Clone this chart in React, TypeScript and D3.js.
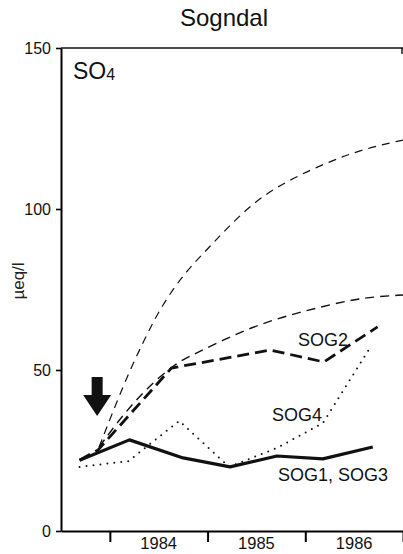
import React, { useEffect, useRef } from 'react';
import * as d3 from 'd3';

// sampling dates (decimal years) and SO4 values, µeq/l
const sog13Dates = [1983.69, 1984.2, 1984.75, 1985.23, 1985.71, 1986.18, 1986.69];
const sog13Values = [22.0, 28.3, 22.7, 19.9, 23.3, 22.4, 26.1];

const sog4Dates = [1983.69, 1984.19, 1984.71, 1985.22, 1985.71, 1986.18, 1986.66];
const sog4Values = [19.9, 21.7, 34.2, 19.9, 25.8, 33.5, 56.8];

const sog2Dates = [1983.69, 1983.88, 1984.63, 1985.64, 1986.19, 1986.74];
const sog2Values = [22.0, 25.2, 50.6, 56.2, 52.5, 63.4];

// thin dashed curves (model)
const upperDates = [1983.89, 1984.15, 1984.35, 1984.53, 1984.77, 1985.02, 1985.26, 1985.54, 1985.87, 1986.28, 1986.63, 1987.0];
const upperValues = [26.1, 46.3, 59.3, 70.0, 80.4, 88.2, 96.0, 103.7, 109.6, 115.2, 118.9, 121.4];

const lowerDates = [1983.89, 1984.24, 1984.65, 1984.89, 1985.16, 1985.43, 1985.77, 1986.12, 1986.46, 1986.69, 1987.0];
const lowerValues = [26.1, 40.4, 51.9, 55.3, 59.3, 63.0, 66.5, 69.3, 71.7, 72.7, 73.3];

const yearTicks = [1984, 1985, 1986, 1987];
const yearLabels = ['1984', '1985', '1986'];
const yTicks = [0, 50, 100, 150];

const limingDate = 1983.87;

const W = 403;
const H = 554;
const FONT = '"Liberation Sans", Arial, Helvetica, sans-serif';

const x = d3.scaleLinear().domain([1983.5, 1987]).range([61, 403]);
const y = d3.scaleLinear().domain([0, 150]).range([531, 48]);

const pts = (ds: number[], vs: number[]) => ds.map((d, i) => [d, vs[i]] as [number, number]);

const lineStraight = d3.line<[number, number]>().x(d => x(d[0])).y(d => y(d[1]));
const lineSmooth = d3.line<[number, number]>().x(d => x(d[0])).y(d => y(d[1])).curve(d3.curveBasis);

export default function App() {
  const yRef = useRef<SVGGElement>(null);
  const xRef = useRef<SVGGElement>(null);

  useEffect(() => {
    const ya = d3.select(yRef.current!);
    ya.call(d3.axisLeft(y).tickValues(yTicks).tickSize(5).tickPadding(5).tickSizeOuter(0).tickFormat(d3.format('d')));
    ya.select('.domain').attr('stroke-width', 2);
    ya.selectAll('.tick line').attr('stroke-width', 1.6);
    ya.selectAll('.tick text').attr('font-size', 16).attr('font-family', FONT).attr('fill', '#111');

    const xa = d3.select(xRef.current!);
    xa.call(d3.axisBottom(x).tickValues(yearTicks).tickSize(11).tickSizeOuter(0).tickFormat(() => ''));
    xa.select('.domain').attr('stroke-width', 2);
    xa.selectAll('.tick line').attr('stroke-width', 2);
  }, []);

  // arrow marking the liming
  const ax = x(limingDate);
  const aTop = y(47.8);
  const aTip = y(35.7);
  const aNeck = aTop + 18;
  const arrow = [
    [ax - 5.5, aTop], [ax + 5.5, aTop], [ax + 5.5, aNeck], [ax + 14, aNeck],
    [ax, aTip], [ax - 14, aNeck], [ax - 5.5, aNeck],
  ].map(p => p.join(',')).join(' ');

  return (
    <svg width={W} height={H} style={{ position: 'absolute', left: 0, top: 0, background: '#fff' }}>
      <text x={224} y={26} textAnchor="middle" fontSize={24} fontFamily={FONT} fill="#111">Sogndal</text>

      {/* frame */}
      <line x1={x(1983.5)} x2={W} y1={y(150)} y2={y(150)} stroke="#111" strokeWidth={1.6} />
      <line x1={x(1987) - 1} x2={x(1987) - 1} y1={y(150)} y2={y(150) + 6} stroke="#111" strokeWidth={1.4} />

      <g ref={yRef} transform={`translate(${x(1983.5)},0)`} />
      <g ref={xRef} transform={`translate(0,${y(0)})`} />

      {yearLabels.map((t, i) => (
        <text key={t} x={x(yearTicks[i] + 0.5)} y={549} textAnchor="middle" fontSize={16.5} fontFamily={FONT} fill="#111">{t}</text>
      ))}

      <text transform="translate(20,281) rotate(-90)" textAnchor="middle" dominantBaseline="middle" fontSize={17} fontFamily={FONT} fill="#222">µeq/l</text>

      <text x={73} y={79} fontSize={23} fontFamily={FONT} fill="#111">SO<tspan fontSize={16} dy={1}>4</tspan></text>

      {/* series */}
      <path d={lineSmooth(pts(upperDates, upperValues)) || ''} fill="none" stroke="#111" strokeWidth={1.2} strokeDasharray="8,6" />
      <path d={lineSmooth(pts(lowerDates, lowerValues)) || ''} fill="none" stroke="#111" strokeWidth={1.4} strokeDasharray="9,6" />
      <path d={lineStraight(pts(sog2Dates, sog2Values)) || ''} fill="none" stroke="#111" strokeWidth={2.8} strokeDasharray="12,6" />
      <path d={lineStraight(pts(sog4Dates, sog4Values)) || ''} fill="none" stroke="#111" strokeWidth={2} strokeDasharray="0,7" strokeLinecap="round" />
      <path d={lineStraight(pts(sog13Dates, sog13Values)) || ''} fill="none" stroke="#111" strokeWidth={3.2} strokeLinejoin="round" />

      <polygon points={arrow} fill="#111" />

      <text x={298} y={346} fontSize={18} fontFamily={FONT} fill="#111">SOG2</text>
      <text x={272} y={421} fontSize={18} fontFamily={FONT} fill="#111">SOG4</text>
      <text x={278} y={481} fontSize={18} fontFamily={FONT} fill="#111">SOG1, SOG3</text>
    </svg>
  );
}
